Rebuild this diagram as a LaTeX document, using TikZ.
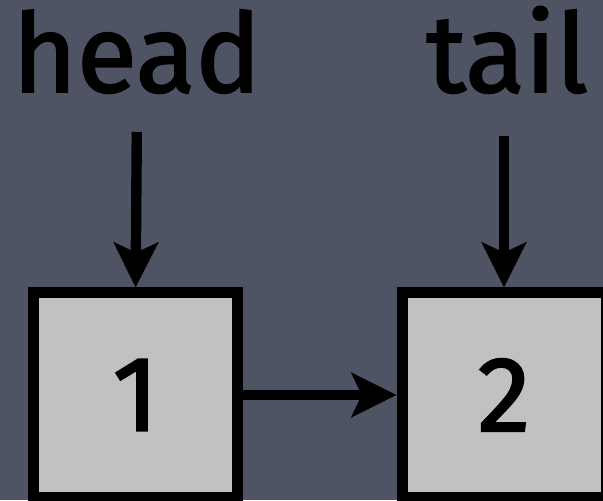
\documentclass[tikz,border=0pt]{standalone}
\usepackage{fontspec}
\setmainfont{Fira Sans}[BoldFont={Fira Sans}, BoldFeatures={FakeBold=1.8}]
\usetikzlibrary{arrows.meta}
\definecolor{slate}{RGB}{78,84,99}
\definecolor{boxgray}{RGB}{193,193,193}
\begin{document}
\begin{tikzpicture}[
  cell/.style={rectangle, draw, fill=boxgray, line width=0.275cm,
    minimum size=5.1cm, inner sep=0pt, font=\bfseries\fontsize{76}{80}\selectfont},
  label/.style={anchor=base, inner sep=0pt, font=\bfseries\fontsize{78}{84}\selectfont},
  link/.style={line width=0.26cm,
    -{Stealth[length=1.12cm, width=1.1cm, inset=0.25cm]}}]

  \fill[slate] (0,0) rectangle (15.075,12.5);
  \useasboundingbox (0,0) rectangle (15.075,12.5);

  \node[cell] (n1) at (3.39,2.625) {1};
  \node[cell] (n2) at (12.6,2.625) {2};

  \node[label] (head) at (3.42,10.2) {head};
  \node[label] (tail) at (12.68,10.2) {tail};

  \draw[link] ([yshift=-1.0cm]head.base) -- (n1.north);
  \draw[link] ([yshift=-1.1cm]tail.base -| n2.north) -- (n2.north);
  \draw[link] (n1.east) -- (n2.west);
\end{tikzpicture}
\end{document}
